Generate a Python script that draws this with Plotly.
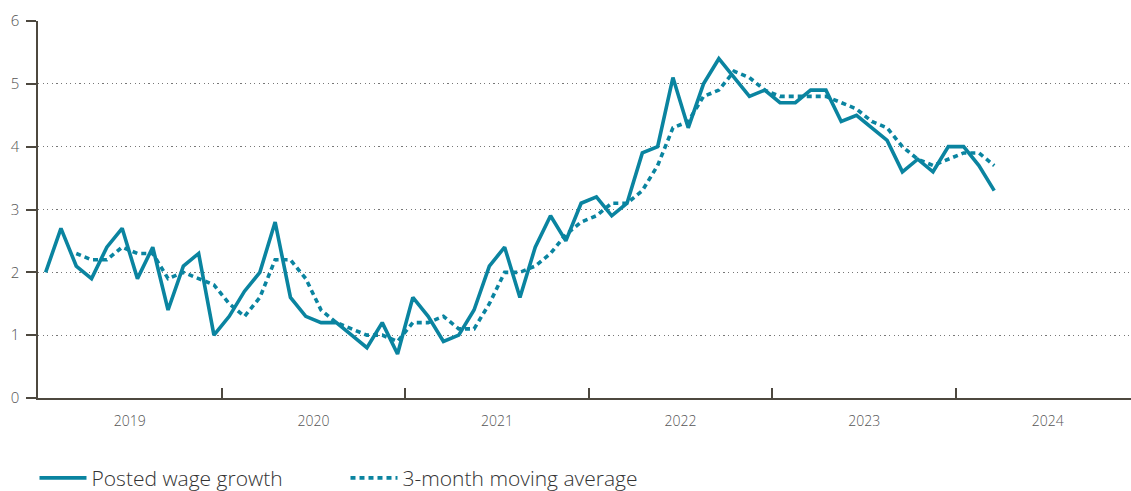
import plotly.graph_objects as go

years = ["2019", "2020", "2021", "2022", "2023", "2024"]

posted_wage_growth = [
    2.0, 2.7, 2.1, 1.9, 2.4, 2.7, 1.9, 2.4, 1.4, 2.1, 2.3, 1.0,
    1.3, 1.7, 2.0, 2.8, 1.6, 1.3, 1.2, 1.2, 1.0, 0.8, 1.2, 0.7,
    1.6, 1.3, 0.9, 1.0, 1.4, 2.1, 2.4, 1.6, 2.4, 2.9, 2.5, 3.1,
    3.2, 2.9, 3.1, 3.9, 4.0, 5.1, 4.3, 5.0, 5.4, 5.1, 4.8, 4.9,
    4.7, 4.7, 4.9, 4.9, 4.4, 4.5, 4.3, 4.1, 3.6, 3.8, 3.6, 4.0,
    4.0, 3.7, 3.3,
]

# 3-month moving average (starts in March 2019)
moving_average = [
    None, None, 2.3, 2.2, 2.2, 2.4, 2.3, 2.3, 1.9, 2.0, 1.9, 1.8,
    1.5, 1.3, 1.6, 2.2, 2.2, 1.9, 1.4, 1.2, 1.1, 1.0, 1.0, 0.9,
    1.2, 1.2, 1.3, 1.1, 1.1, 1.5, 2.0, 2.0, 2.1, 2.3, 2.6, 2.8,
    2.9, 3.1, 3.1, 3.3, 3.7, 4.3, 4.4, 4.8, 4.9, 5.2, 5.1, 4.9,
    4.8, 4.8, 4.8, 4.8, 4.7, 4.6, 4.4, 4.3, 4.0, 3.8, 3.7, 3.8,
    3.9, 3.9, 3.7,
]

# month positions: month index + 0.5 (12 units per year)
months = [i + 0.5 for i in range(len(posted_wage_growth))]
year_centers = [6 + 12 * i for i in range(len(years))]
year_bounds = [12 * (i + 1) for i in range(len(years) - 1)]

TEAL = "#0a84a0"
AXIS = "#4d483f"
FONT = "Open Sans, Noto Sans, sans-serif"

fig = go.Figure()
fig.add_trace(go.Scatter(
    x=months, y=posted_wage_growth, mode="lines", name="Posted wage growth",
    line=dict(color=TEAL, width=3.6),
))
fig.add_trace(go.Scatter(
    x=months, y=moving_average, mode="lines", name="3-month moving average",
    line=dict(color=TEAL, width=3.6, dash="5px,4px"),
))

fig.update_layout(
    width=1131, height=491,
    margin=dict(l=38, r=0, t=21, b=93, autoexpand=False),
    paper_bgcolor="white", plot_bgcolor="white",
    font=dict(family=FONT, color="#555555"),
    showlegend=True,
    legend=dict(
        orientation="h",
        xref="container", yref="container",
        x=0.0305, xanchor="left", y=0.026, yanchor="middle",
        font=dict(size=21, color="#333333", family=FONT, weight=300),
        entrywidth=249, entrywidthmode="pixels",
        itemwidth=47,
    ),
)

fig.update_xaxes(
    range=[0, 71.44], automargin=False,
    tickvals=year_centers, ticktext=years,
    ticks="", showgrid=False, zeroline=False,
    showline=True, linecolor=AXIS, linewidth=1.5,
    tickfont=dict(size=14, color="#555555", weight=300),
    ticklabelstandoff=9,
    minor=dict(tickvals=year_bounds, ticks="inside", ticklen=10, tickcolor=AXIS,
               tickwidth=1.5, showgrid=False),
    fixedrange=True,
)
fig.update_yaxes(
    range=[0, 6], tickvals=[0, 1, 2, 3, 4, 5, 6], automargin=False,
    ticks="outside", ticklen=10, tickcolor=AXIS, tickwidth=1.5,
    showline=True, linecolor=AXIS, linewidth=1.5,
    showgrid=True, gridcolor="#777777", gridwidth=1, griddash="1.2px,3.4px",
    zeroline=False,
    tickfont=dict(size=15, color="#555555", weight=300),
    ticklabelstandoff=4,
    fixedrange=True,
)

fig.write_html(
    "out.html",
    config={"displayModeBar": False},
    post_script="document.body.style.margin='0';document.documentElement.style.overflow='hidden';",
)
